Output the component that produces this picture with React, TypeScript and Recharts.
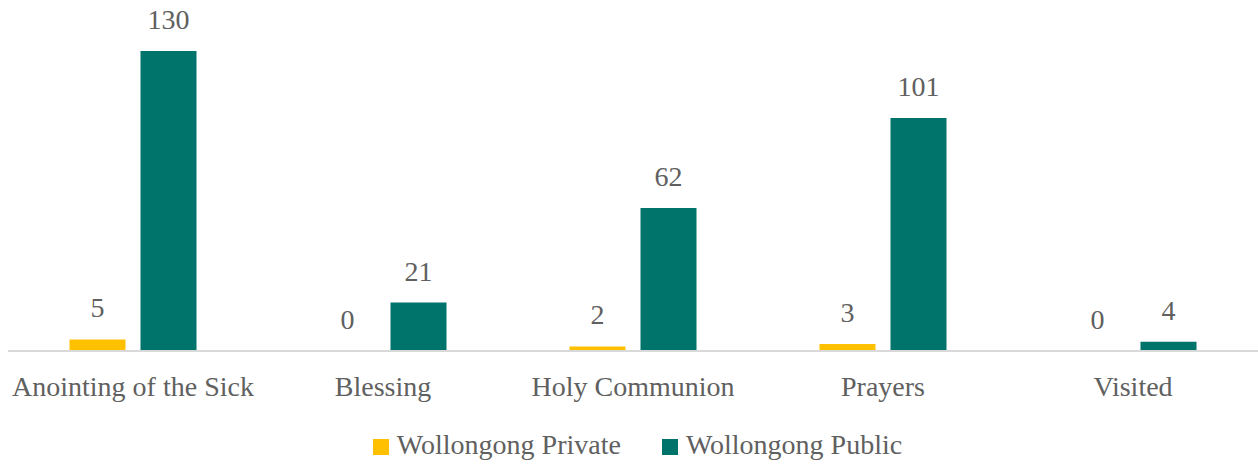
import React from 'react';
import { BarChart, Bar, XAxis, YAxis, Legend, LabelList } from 'recharts';

const categories = ['Anointing of the Sick', 'Blessing', 'Holy Communion', 'Prayers', 'Visited'];
const privateValues = [5, 0, 2, 3, 0];
const publicValues = [130, 21, 62, 101, 4];

const data = categories.map((name, i) => ({
  name,
  private: privateValues[i],
  public: publicValues[i],
}));

const FONT = '"Liberation Serif", serif';
const TEXT = '#606060';

const LegendContent = (props: any) => {
  const { payload } = props;
  return (
    <div style={{ display: 'flex', justifyContent: 'center', fontFamily: FONT, fontSize: 28, lineHeight: '28px', color: TEXT, paddingLeft: 17 }}>
      {payload.map((p: any, i: number) => (
        <div key={p.value} style={{ display: 'flex', alignItems: 'center', marginLeft: i ? 41 : 0 }}>
          <span style={{ display: 'inline-block', width: 16, height: 16, background: p.color, marginRight: 8, marginTop: 4 }} />
          <span>{p.value}</span>
        </div>
      ))}
    </div>
  );
};

const App: React.FC = () => {
  return (
    <div style={{ position: 'absolute', left: 0, top: 0, width: 1258, height: 465, background: '#fff' }}>
      <BarChart
        width={1258}
        height={465}
        data={data}
        margin={{ top: 51, right: 0, left: 8, bottom: 74 }}
        barCategoryGap={61.5}
        barGap={15}
      >
        <XAxis
          dataKey="name"
          height={40}
          tickLine={false}
          axisLine={{ stroke: '#d9d9d9', strokeWidth: 2 }}
          tickMargin={19}
          interval={0}
          tick={{ fill: TEXT, fontSize: 28, fontFamily: FONT }}
        />
        <YAxis hide domain={[0, 130]} />
        <Legend
          verticalAlign="middle"
          align="center"
          layout="horizontal"
          content={<LegendContent />}
          wrapperStyle={{ top: 431, left: 0, width: 1258 }}
        />
        <Bar dataKey="private" name="Wollongong Private" fill="#FFC000" minPointSize={0.01} isAnimationActive={false}>
          <LabelList dataKey="private" position="top" offset={22} fill={TEXT} fontSize={28} fontFamily={FONT} />
        </Bar>
        <Bar dataKey="public" name="Wollongong Public" fill="#00746B" isAnimationActive={false}>
          <LabelList dataKey="public" position="top" offset={22} fill={TEXT} fontSize={28} fontFamily={FONT} />
        </Bar>
      </BarChart>
    </div>
  );
};

export default App;
